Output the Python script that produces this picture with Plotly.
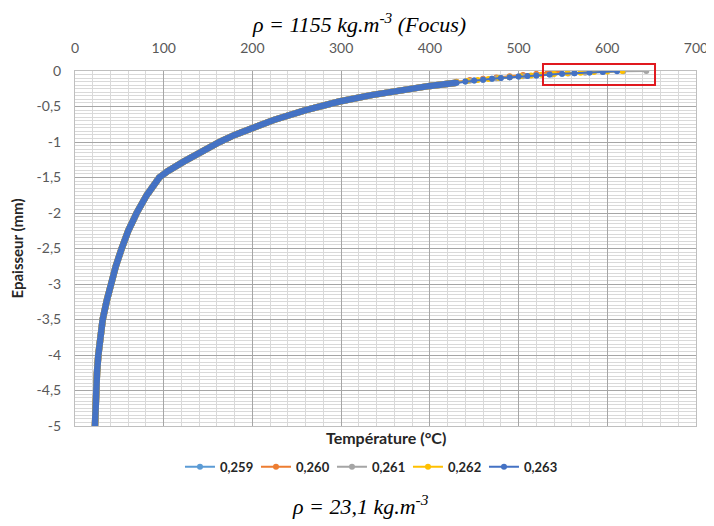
import plotly.graph_objects as go

# Shared temperature profile (all series overlap below the surface zone)
body_depth = [-5.0, -4.75, -4.5, -4.25, -4.0, -3.75, -3.5, -3.25, -3.0, -2.75, -2.5, -2.25,
              -2.0, -1.75, -1.5, -1.41, -1.28, -1.12, -1.0, -0.9, -0.8, -0.69, -0.55, -0.43,
              -0.34, -0.26, -0.21, -0.165]
body_temp = [22.5, 22.9, 23.7, 24.8, 26.3, 28.2, 31.2, 35.5, 40.5, 46.0, 52.6, 60.0,
             69.5, 80.8, 95.0, 104.5, 122.0, 144.0, 163.0, 180.0, 200.0, 224.0, 260.0, 298.0,
             334.0, 372.0, 400.0, 430.0]

# Near-surface points, one list per series
series_names = ["0,259", "0,260", "0,261", "0,262", "0,263"]
colors = ["#5B9BD5", "#ED7D31", "#A5A5A5", "#FFC000", "#4472C4"]

tail_temp = {
    "0,259": [430, 440, 450, 460, 470, 480, 490, 500, 510, 520, 535, 549, 563, 580],
    "0,260": [430, 445, 460, 475, 490, 505, 520, 533, 545],
    "0,261": [430, 445, 460, 475, 490, 505, 520, 538, 556, 575, 595, 618, 644],
    "0,262": [430, 442, 454, 466, 478, 490, 502, 514, 526, 540, 555, 570, 585, 600, 617],
    "0,263": [430, 440, 450, 460, 470, 480, 490, 500, 510, 520, 535, 549, 563, 580, 595, 611],
}
tail_depth = {
    "0,259": [-0.165, -0.149, -0.135, -0.122, -0.11, -0.099, -0.089, -0.079, -0.07, -0.062,
              -0.05, -0.04, -0.031, -0.022],
    "0,260": [-0.15, -0.128, -0.108, -0.09, -0.073, -0.057, -0.04, -0.02, 0.0],
    "0,261": [-0.16, -0.139, -0.12, -0.103, -0.088, -0.074, -0.061, -0.048, -0.036, -0.025,
              -0.014, -0.005, 0.0],
    "0,262": [-0.16, -0.142, -0.126, -0.112, -0.099, -0.086, -0.074, -0.063, -0.053, -0.042,
              -0.032, -0.023, -0.015, -0.007, 0.0],
    "0,263": [-0.165, -0.149, -0.135, -0.122, -0.11, -0.099, -0.089, -0.079, -0.07, -0.062,
              -0.05, -0.04, -0.031, -0.022, -0.013, -0.004],
}

y_tickvals = [0, -0.5, -1, -1.5, -2, -2.5, -3, -3.5, -4, -4.5, -5]
y_ticktext = ["0", "-0,5", "-1", "-1,5", "-2", "-2,5", "-3", "-3,5", "-4", "-4,5", "-5"]

axis_font = "Century Gothic, Lato, sans-serif"
title_font = "Liberation Serif"

fig = go.Figure()

for name, color in zip(series_names, colors):
    # thick body: dense overlapping markers in the original
    fig.add_trace(go.Scatter(
        x=body_temp, y=body_depth, mode="lines",
        line=dict(color=color, width=6.5),
        showlegend=False, hoverinfo="skip",
    ))
    fig.add_trace(go.Scatter(
        x=tail_temp[name], y=tail_depth[name], mode="lines+markers",
        name="<b>" + name + "</b>",
        line=dict(color=color, width=2),
        marker=dict(color=color, size=6),
    ))

# page body has an 8px margin, so the figure is 8px smaller and shifted
fig.update_layout(
    width=706, height=518,
    margin=dict(l=67, r=18, t=63, b=100),
    paper_bgcolor="white", plot_bgcolor="white",
    font=dict(family=axis_font, size=13, color="#595959"),
    xaxis=dict(
        range=[0, 700], dtick=100, side="top", automargin=False,
        showgrid=True, gridcolor="#A6A6A6", gridwidth=1,
        minor=dict(dtick=20, showgrid=True, gridcolor="#D9D9D9", gridwidth=1),
        showline=True, linecolor="#BFBFBF", mirror=True,
        zeroline=False, ticks="", ticklabelstandoff=11,
        tickfont=dict(size=14, color="#595959"),
    ),
    yaxis=dict(
        range=[-5, 0], tickvals=y_tickvals, ticktext=y_ticktext, automargin=False,
        showgrid=True, gridcolor="#A6A6A6", gridwidth=1,
        minor=dict(dtick=0.05, showgrid=True, gridcolor="#D9D9D9", gridwidth=1),
        showline=True, linecolor="#BFBFBF", mirror=True,
        zeroline=False, ticks="", ticklabelstandoff=10,
        tickfont=dict(size=14, color="#595959"),
        title=dict(text="<b>Epaisseur (mm)</b>", standoff=18,
                   font=dict(size=15, color="#262626")),
    ),
    legend=dict(
        orientation="h", x=0.475, xanchor="center", y=-0.115, yanchor="middle",
        font=dict(size=13, color="#262626"), itemwidth=30,
        traceorder="normal", entrywidth=31,
    ),
    shapes=[dict(
        type="rect", xref="paper", yref="paper",
        x0=0.7536, x1=0.934, y0=0.9606, y1=1.0197,
        line=dict(color="#E0191F", width=2),
    )],
    annotations=[
        dict(text="<i>ρ = 1155 kg.m<sup>-3</sup> (Focus)</i>", xref="paper", yref="paper",
             x=0.457, y=1.135, showarrow=False, xanchor="center", yanchor="middle",
             font=dict(family=title_font, size=22, color="black")),
        dict(text="<i>ρ = 23,1 kg.m<sup>-3</sup></i>", xref="paper", yref="paper",
             x=0.459, y=-0.2225, showarrow=False, xanchor="center", yanchor="middle",
             font=dict(family=title_font, size=22, color="black")),
        dict(text="<b>Température (°C)</b>", xref="paper", yref="paper",
             x=0.5, y=-0.031, showarrow=False, xanchor="center", yanchor="middle",
             font=dict(size=16, color="#262626")),
    ],
)

fig.write_html("out.html")
